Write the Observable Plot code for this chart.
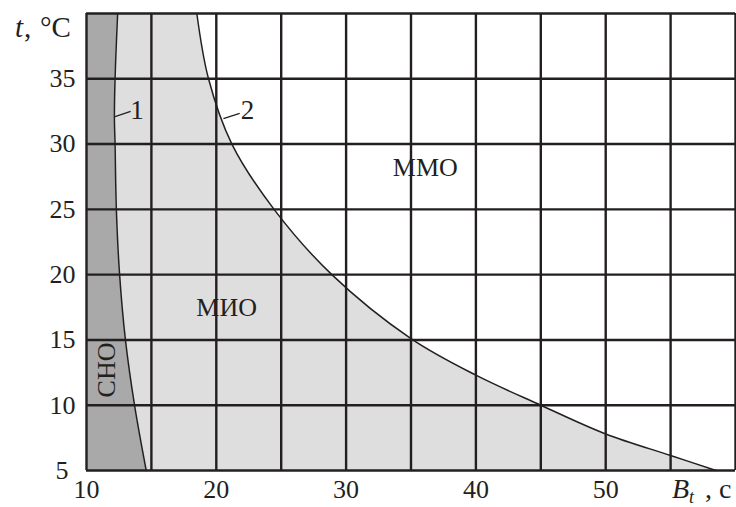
<!DOCTYPE html>
<html>
<head>
<meta charset="utf-8">
<script src="https://cdn.jsdelivr.net/npm/d3@7"></script>
<script src="https://cdn.jsdelivr.net/npm/@observablehq/plot@0.6"></script>
<style>
  html, body { margin: 0; padding: 0; background: #fff; }
  svg { display: block; }
</style>
</head>
<body>
<div id="chart"></div>
<script>
// Curve 1: boundary СНО / МИО  (B in s, t in °C)
const curve1T = [40, 35, 32, 30, 25, 20, 15, 10, 5];
const curve1B = [12.4, 12.2, 12.15, 12.2, 12.3, 12.55, 13.0, 13.7, 14.6];
// Curve 2: boundary МИО / ММО
const curve2T = [40, 35, 30, 25, 20, 15.1, 12.3, 10.0, 7.8, 6.15, 5];
const curve2B = [18.5, 19.4, 21.2, 24.45, 28.9, 35, 40, 45, 50, 55, 58.5];

const xGrid = [10, 15, 20, 25, 30, 35, 40, 45, 50, 55, 60];
const yGrid = [5, 10, 15, 20, 25, 30, 35, 40];
const xTickLabels = [10, 20, 30, 40, 50];
const yTickLabels = [10, 15, 20, 25, 30, 35];
const yTickLow = [5];

const regionLabels = [
  {text: "ММО", B: 36.1, t: 28.2, rotate: 0},
  {text: "МИО", B: 20.8, t: 17.5, rotate: 0},
  {text: "СНО", B: 11.55, t: 12.7, rotate: -90}
];
const curveLabels = [
  {text: "1", B: 13.9, t: 32.6},
  {text: "2", B: 22.4, t: 32.55}
];
const leaders = [
  {B1: 12.2, t1: 32.1, B2: 13.4, t2: 32.5},
  {B1: 20.55, t1: 31.95, B2: 21.8, t2: 32.35}
];

const c1 = curve1T.map((t, i) => ({t, B: curve1B[i]}));
const c2 = curve2T.map((t, i) => ({t, B: curve2B[i]}));

const ink = "#231f20";
const font = "'Liberation Serif', 'Times New Roman', serif";
const tickFs = 26;

const chart = Plot.plot({
  width: 736,
  height: 507,
  marginLeft: 86,
  marginRight: 1,
  marginTop: 13,
  marginBottom: 37,
  style: {fontFamily: font, fontSize: tickFs + "px", background: "#fff", color: ink},
  x: {domain: [10, 60], label: null},
  y: {domain: [5, 40], label: null},
  marks: [
    Plot.areaX(c2, {y: "t", x1: 10, x2: "B", fill: "#dedede", curve: "catmull-rom"}),
    Plot.areaX(c1, {y: "t", x1: 10, x2: "B", fill: "#a9a9a9", curve: "catmull-rom"}),
    Plot.gridX(xGrid, {stroke: ink, strokeOpacity: 1, strokeWidth: 2.4}),
    Plot.gridY(yGrid, {stroke: ink, strokeOpacity: 1, strokeWidth: 2.4}),
    Plot.line(c1, {x: "B", y: "t", stroke: ink, strokeWidth: 1.5, curve: "catmull-rom"}),
    Plot.line(c2, {x: "B", y: "t", stroke: ink, strokeWidth: 1.5, curve: "catmull-rom"}),
    Plot.link(leaders, {x1: "B1", y1: "t1", x2: "B2", y2: "t2", stroke: ink, strokeWidth: 1.2}),
    Plot.text(curveLabels, {x: "B", y: "t", text: "text", fontSize: 27, fill: ink, fontFamily: font}),
    Plot.text(regionLabels, {x: "B", y: "t", text: "text", rotate: "rotate", fontSize: 26, fill: ink, fontFamily: font}),
    Plot.axisX(xTickLabels, {tickSize: 0, tickPadding: 9, fontSize: tickFs, fill: ink, fontFamily: font, label: null}),
    Plot.axisY(yTickLabels, {tickSize: 0, tickPadding: 11, fontSize: tickFs, fill: ink, fontFamily: font, label: null}),
    Plot.axisY(yTickLow, {tickSize: 0, tickPadding: 18, fontSize: tickFs, fill: ink, fontFamily: font, label: null})
  ]
});

const svg = d3.select(chart);
// make sure tick labels use the intended font
svg.selectAll('g[aria-label$="tick label"]')
  .attr("font-size", tickFs)
  .style("font-size", tickFs + "px")
  .style("font-family", font)
  .style("font-variant", "normal");

// y-axis title "t, °C"
const yt = svg.append("text")
  .attr("y", 37)
  .attr("text-anchor", "start")
  .attr("fill", ink)
  .style("font-family", font)
  .style("font-size", "29px");
yt.append("tspan").attr("x", 15).attr("font-style", "italic").text("t");
yt.append("tspan").attr("x", 24).text(",");
yt.append("tspan").attr("x", 40).text("°C");

// x-axis title "B_t , c"
const xt = svg.append("text")
  .attr("y", 498)
  .attr("text-anchor", "start")
  .attr("fill", ink)
  .style("font-family", font)
  .style("font-size", "28px");
xt.append("tspan").attr("x", 672).attr("font-style", "italic").text("B");
xt.append("tspan").attr("font-style", "italic").attr("font-size", "18px").attr("dy", 5).text("t");
xt.append("tspan").attr("x", 705).attr("dy", -5).text(",");
xt.append("tspan").attr("x", 719).text("c");

document.getElementById("chart").appendChild(chart);
</script>
</body>
</html>
